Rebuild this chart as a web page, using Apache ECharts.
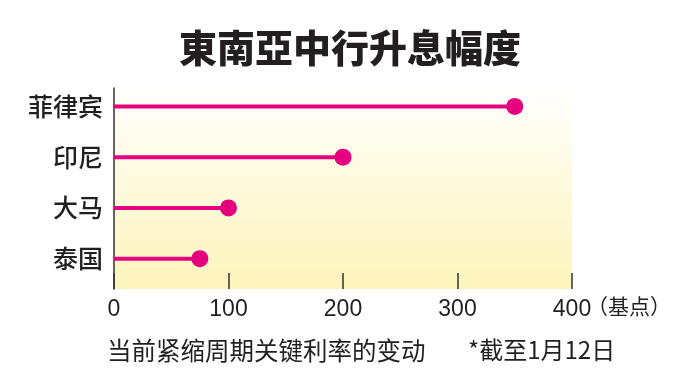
<!DOCTYPE html>
<html>
<head>
<meta charset="utf-8">
<script src="https://cdn.jsdelivr.net/npm/echarts@6/dist/echarts.min.js"></script>
<style>
html,body{margin:0;padding:0;background:#fff;}
#chart{width:700px;height:376px;}
</style>
</head>
<body>
<div id="chart"></div>
<script>
const titleText = '東南亞中行升息幅度';
const categories = ['菲律宾', '印尼', '大马', '泰国'];
const values = [350, 200, 100, 75];
const xMin = 0, xMax = 400, xStep = 100;
const unitText = '（基点）';
const footnoteLeft = '当前紧缩周期关键利率的变动';
const footnoteRight = '*截至1月12日';

const CJK = '"Noto Sans CJK SC", "Noto Sans", sans-serif';
const NUM = '"Liberation Sans", Arial, "Noto Sans CJK SC", sans-serif';
const INK = '#231f20';
const MAG = '#e4007f';

const chart = echarts.init(document.getElementById('chart'), null, {renderer: 'canvas'});
chart.setOption({
  animation: false,
  backgroundColor: '#ffffff',
  grid: [
    {left: 114, width: 458, top: 81, height: 203, containLabel: false},
    {left: 114, width: 458, top: 88, height: 201, show: true, borderWidth: 0,
     backgroundColor: {type: 'linear', x: 0, y: 0, x2: 0, y2: 1,
       colorStops: [{offset: 0, color: '#ffffff'}, {offset: 0.12, color: '#fffef6'}, {offset: 1, color: '#fdf4bb'}]}}
  ],
  xAxis: [
    {gridIndex: 0, type: 'value', min: xMin, max: xMax, interval: xStep, show: false},
    {gridIndex: 1, type: 'value', min: xMin, max: xMax, interval: xStep,
     axisLine: {show: false},
     axisTick: {show: true, inside: true, length: 16, lineStyle: {color: '#333', width: 1.5}},
     splitLine: {show: false},
     axisLabel: {margin: 9, fontSize: 23, color: INK, fontFamily: NUM}}
  ],
  yAxis: [
    {gridIndex: 0, type: 'category', data: categories, inverse: true,
     axisLine: {show: false}, axisTick: {show: false}, splitLine: {show: false},
     axisLabel: {margin: 11, fontSize: 25, color: INK, fontFamily: CJK, fontWeight: 500}},
    {gridIndex: 1, type: 'value', min: 0, max: 1,
     axisLine: {show: true, lineStyle: {color: '#333', width: 1.5}},
     axisTick: {show: false}, axisLabel: {show: false}, splitLine: {show: false}}
  ],
  series: [
    {type: 'bar', xAxisIndex: 0, yAxisIndex: 0, data: values, barWidth: 4,
     itemStyle: {color: MAG}, silent: true, z: 3},
    {type: 'scatter', xAxisIndex: 0, yAxisIndex: 0,
     data: values.map((v, i) => [v, categories[i]]),
     symbol: 'circle', symbolSize: 17, itemStyle: {color: MAG, opacity: 1}, silent: true, z: 4}
  ],
  graphic: [
    {type: 'text', left: 'center', top: 29, style: {text: titleText, fill: INK,
      font: '900 38px ' + CJK}},
    {type: 'text', left: 587, top: 296, style: {text: unitText, fill: INK,
      font: '21px ' + CJK}},
    {type: 'text', left: 107, top: 338, style: {text: footnoteLeft, fill: INK,
      font: '24.5px ' + CJK}},
    {type: 'text', left: 468, top: 338, style: {text: footnoteRight, fill: INK,
      font: '24px ' + CJK}}
  ]
});
</script>
</body>
</html>
